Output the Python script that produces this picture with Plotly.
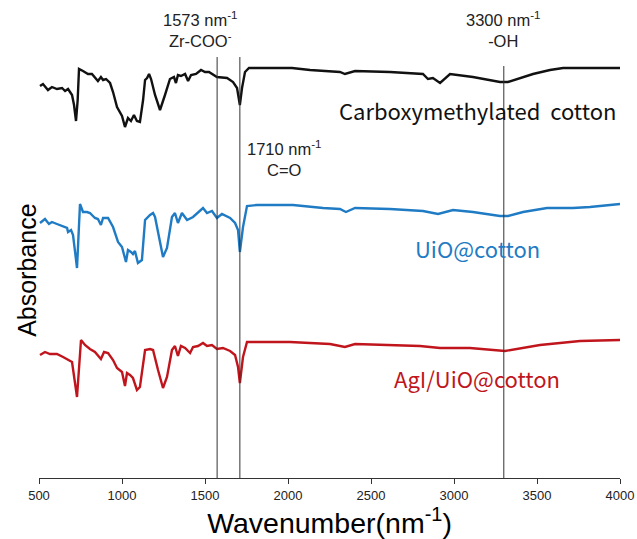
import plotly.graph_objects as go

# ---- data ----
wn_cmc = [506, 524, 554, 578, 608, 639, 657, 675, 687, 699, 711, 723, 733, 741, 765, 795, 819, 837, 855, 873,
          886, 904, 928, 946, 970, 1000, 1018, 1036, 1054, 1072, 1090, 1108, 1127, 1139, 1151, 1163, 1175, 1199,
          1229, 1259, 1289, 1313, 1325, 1337, 1355, 1380, 1398, 1416, 1446, 1476, 1500, 1524, 1572, 1633, 1669,
          1693, 1710, 1723, 1741, 1765, 2024, 2133, 2313, 2343, 2404, 2614, 2813, 2843, 2873, 2916, 2946, 2976,
          3114, 3217, 3277, 3325, 3380, 3476, 3578, 3657, 3819, 4000]
ab_cmc = [3.92, 3.94, 3.88, 3.91, 3.89, 3.90, 3.87, 3.89, 3.86, 3.83, 3.73, 3.57, 3.78, 4.09, 4.07, 4.04, 4.04,
          4.01, 3.97, 4.01, 3.98, 3.99, 3.95, 3.86, 3.71, 3.62, 3.51, 3.60, 3.57, 3.63, 3.57, 3.56, 3.78, 3.98,
          4.00, 4.04, 3.99, 3.83, 3.68, 3.83, 3.99, 4.01, 3.95, 4.03, 4.02, 4.04, 3.97, 4.03, 4.04, 4.08, 4.06,
          4.06, 4.01, 4.00, 3.96, 3.90, 3.73, 3.90, 4.06, 4.10, 4.10, 4.08, 4.06, 4.04, 4.07, 4.06, 4.04, 3.99,
          4.00, 3.95, 4.00, 4.04, 4.01, 3.98, 3.96, 3.96, 3.99, 4.04, 4.08, 4.10, 4.10, 4.10]

wn_uio = [506, 536, 560, 578, 608, 639, 669, 675, 693, 705, 729, 747, 765, 789, 807, 837, 855, 873, 886, 916,
          946, 976, 1000, 1024, 1036, 1054, 1066, 1078, 1096, 1120, 1139, 1169, 1187, 1199, 1217, 1247, 1271,
          1301, 1319, 1337, 1361, 1392, 1428, 1452, 1488, 1512, 1542, 1572, 1602, 1651, 1681, 1699, 1710, 1729,
          1753, 1813, 2030, 2211, 2313, 2349, 2404, 2614, 2813, 2904, 2994, 3114, 3277, 3325, 3416, 3560, 3717,
          3819, 4000]
ab_uio = [2.55, 2.59, 2.54, 2.56, 2.54, 2.52, 2.50, 2.46, 2.48, 2.43, 2.10, 2.74, 2.66, 2.66, 2.65, 2.60, 2.59,
          2.53, 2.60, 2.60, 2.51, 2.36, 2.31, 2.16, 2.28, 2.26, 2.24, 2.27, 2.15, 2.18, 2.58, 2.63, 2.65, 2.61,
          2.45, 2.21, 2.30, 2.61, 2.65, 2.55, 2.65, 2.58, 2.61, 2.65, 2.70, 2.65, 2.67, 2.60, 2.64, 2.60, 2.55,
          2.48, 2.26, 2.51, 2.72, 2.73, 2.73, 2.70, 2.69, 2.66, 2.70, 2.69, 2.67, 2.64, 2.68, 2.66, 2.62, 2.62,
          2.66, 2.70, 2.70, 2.71, 2.74]

wn_agi = [506, 536, 566, 608, 645, 675, 699, 729, 753, 777, 807, 837, 867, 873, 892, 916, 946, 970, 1000, 1018,
          1030, 1048, 1066, 1090, 1108, 1139, 1169, 1187, 1217, 1247, 1271, 1301, 1319, 1337, 1355, 1380, 1410,
          1428, 1458, 1488, 1512, 1542, 1572, 1608, 1651, 1681, 1699, 1710, 1729, 1753, 1813, 2012, 2253, 2343,
          2404, 2795, 2916, 3096, 3307, 3518, 3759, 4000]
ab_agi = [1.23, 1.26, 1.24, 1.24, 1.21, 1.18, 1.16, 0.81, 1.38, 1.33, 1.29, 1.26, 1.21, 1.19, 1.26, 1.25, 1.18,
          1.10, 1.06, 0.92, 1.05, 1.03, 1.00, 0.88, 0.91, 1.28, 1.29, 1.28, 1.08, 0.90, 1.01, 1.28, 1.32, 1.22,
          1.32, 1.30, 1.25, 1.31, 1.32, 1.35, 1.32, 1.33, 1.29, 1.30, 1.27, 1.23, 1.11, 0.95, 1.21, 1.36, 1.36,
          1.36, 1.34, 1.31, 1.34, 1.32, 1.30, 1.30, 1.27, 1.33, 1.37, 1.38]

series_names = ["Carboxymethylated\u00a0 cotton", "UiO@cotton", "AgI/UiO@cotton"]
series_colors = ["#111111", "#1F7BC4", "#C0151C"]

marker_wn = [1573, 1710, 3300]
marker_top = [4.21, 4.21, 4.12]
marker_labels = ["1573 nm<sup>-1</sup><br>Zr-COO<sup>-</sup>", "1710 nm<sup>-1</sup><br>C=O",
                 "3300 nm<sup>-1</sup><br>-OH"]
tick_vals = [500, 1000, 1500, 2000, 2500, 3000, 3500, 4000]

fig = go.Figure()
for wn, ab, name, col in zip([wn_cmc, wn_uio, wn_agi], [ab_cmc, ab_uio, ab_agi], series_names, series_colors):
    fig.add_trace(go.Scatter(x=wn, y=ab, mode="lines", name=name,
                             line=dict(color=col, width=2.4),
                             showlegend=False))

for xv, top in zip(marker_wn, marker_top):
    fig.add_shape(type="line", x0=xv, x1=xv, y0=0, y1=top, xref="x", yref="y",
                  line=dict(color="#333333", width=1))

label_font = dict(family="Liberation Sans, Arial", size=16.5, color="#222222")
fig.add_annotation(x=marker_wn[0] - 100, y=4.49, text=marker_labels[0], showarrow=False, font=label_font,
                   align="center")
fig.add_annotation(x=marker_wn[1] + 270, y=3.20, text=marker_labels[1], showarrow=False, font=label_font,
                   align="center")
fig.add_annotation(x=marker_wn[2], y=4.49, text=marker_labels[2], showarrow=False, font=label_font,
                   align="center")

series_font = "Noto Sans CJK KR, Noto Sans"
for name, col, yv in zip(series_names, series_colors, [3.68, 2.30, 1.00]):
    fig.add_annotation(x=3140, y=yv, text=name, showarrow=False,
                       font=dict(family=series_font, size=22, color=col))

fig.add_annotation(xref="paper", yref="paper", x=-0.021, y=0.435, xanchor="center", yanchor="middle",
                   text="Absorbance", textangle=-90,
                   showarrow=False, font=dict(family="Liberation Sans, Arial", size=25, color="#000000"))

fig.update_layout(
    width=637, height=539,
    margin=dict(l=39, r=17, t=0, b=61),
    plot_bgcolor="white", paper_bgcolor="white",
    xaxis=dict(range=[500, 4000], tickvals=tick_vals, showgrid=False, zeroline=False,
               showline=True, linecolor="#333333", linewidth=1, ticks="outside", ticklen=5,
               tickcolor="#333333", tickfont=dict(family="Liberation Sans, Arial", size=13, color="#222222"),
               title=dict(text="Wavenumber(nm<sup>-1</sup>)", standoff=3,
                          font=dict(family="Liberation Sans, Arial", size=28.5, color="#000000"))),
    yaxis=dict(range=[0, 4.78], showgrid=False, zeroline=False, showline=False, showticklabels=False,
               ticks=""),
)

fig.write_html("out.html")
